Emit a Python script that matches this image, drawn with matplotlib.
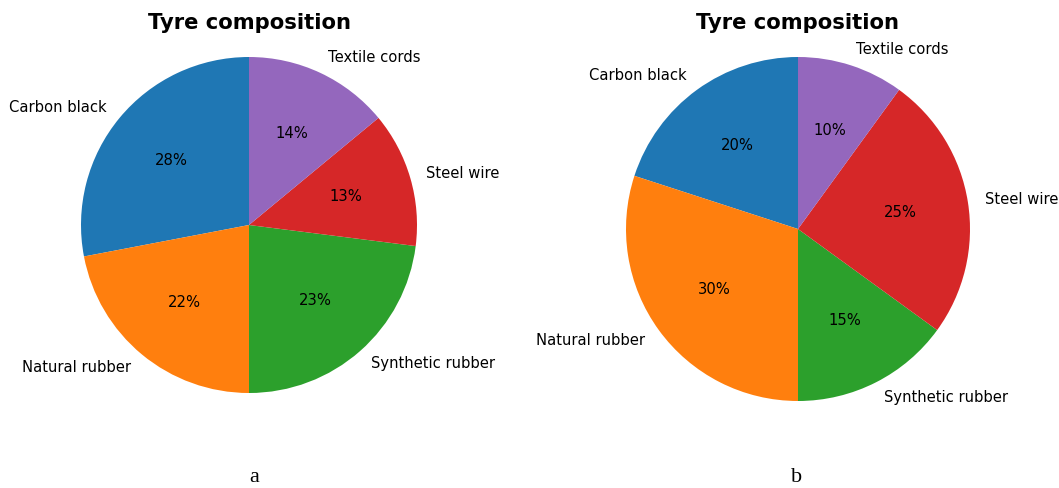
import matplotlib
matplotlib.use('Agg')
import matplotlib.pyplot as plt

W, H = 1059, 488

labels = ['Carbon black', 'Natural rubber', 'Synthetic rubber', 'Steel wire', 'Textile cords']
share_a = [28, 22, 23, 13, 14]
share_b = [20, 30, 15, 25, 10]
colors = ['#1f77b4', '#ff7f0e', '#2ca02c', '#d62728', '#9467bd']

fig = plt.figure(figsize=(W / 100, H / 100), dpi=100)


def pie_axes(cx, cy, r):
    # place an axes so that the unit circle lands on (cx, cy) with radius r, in pixels
    ax = fig.add_axes([(cx - r) / W, (H - cy - r) / H, 2 * r / W, 2 * r / H])
    return ax


panels = [
    (share_a, 249, 225, 168, 'a', 254),
    (share_b, 798, 229, 172, 'b', 797),
]

for vals, cx, cy, r, tag, tx in panels:
    ax = pie_axes(cx, cy, r)
    wedges, texts, autotexts = ax.pie(vals, labels=labels, colors=colors,
                                      autopct='%1.0f%%', startangle=90,
                                      textprops={'fontsize': 10.6}, frame=True)
    ax.set_xlim(-1, 1)
    ax.set_ylim(-1, 1)
    ax.axis('off')
    for w in wedges:
        w.set_clip_on(False)
    fig.text(cx / W, 1 - 23 / H, 'Tyre composition', ha='center', va='center',
             fontsize=15.2, fontweight='bold')
    fig.text(tx / W, 1 - 478 / H, tag, ha='center', va='center',
             fontsize=16, family='Liberation Serif')

fig.savefig('out.png', dpi=100)
